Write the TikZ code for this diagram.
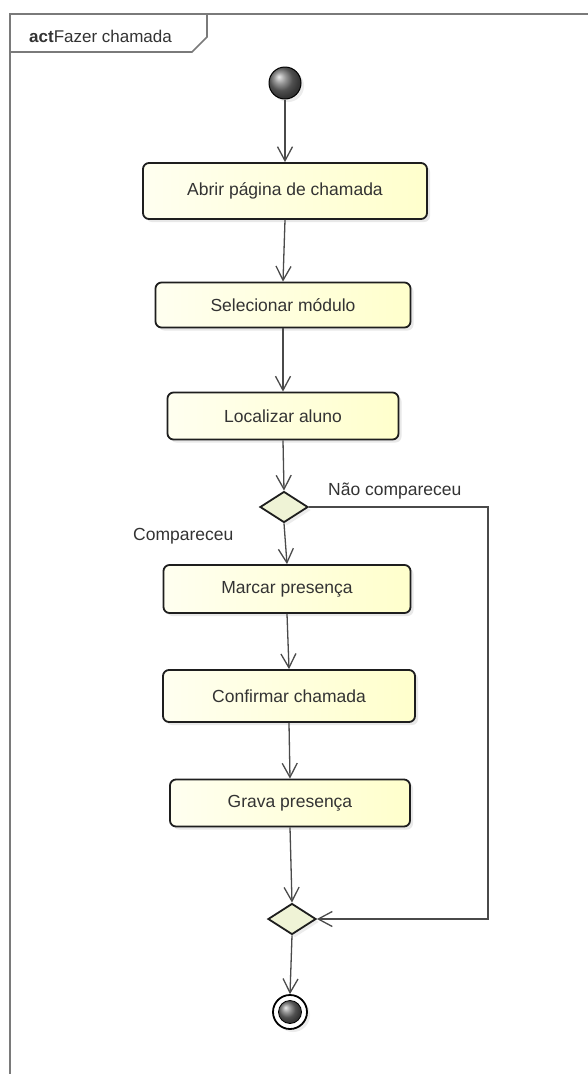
\documentclass[tikz,border=0pt]{standalone}
\usepackage{fontspec}
\setmainfont{Liberation Sans}
\usetikzlibrary{shapes.geometric,arrows.meta,shadows}

\definecolor{framegray}{HTML}{7A7A7A}
\definecolor{linegray}{HTML}{4A4A4A}
\definecolor{boxline}{HTML}{1E1E1E}
\definecolor{boxleft}{HTML}{FFFFF0}
\definecolor{boxright}{HTML}{FFFFCC}
\definecolor{decfill}{HTML}{EFF3D6}
\definecolor{txt}{HTML}{333333}

\tikzset{
  action/.style={draw=boxline, line width=1.8pt, rounded corners=6pt,
    left color=boxleft, right color=boxright, inner sep=0pt,
    font=\fontsize{17.5}{20}\selectfont, text=txt,
    drop shadow={opacity=0.18, shadow xshift=3pt, shadow yshift=-3pt}},
  decision/.style={diamond, draw=boxline, line width=1.8pt, fill=decfill,
    inner sep=0pt, minimum width=48pt, minimum height=31pt,
    drop shadow={opacity=0.15, shadow xshift=3pt, shadow yshift=-3pt}},
  flow/.style={draw=linegray, line width=1.3pt,
    -{Straight Barb[length=14pt, width=15pt, line width=1.3pt]}},
  guard/.style={font=\fontsize{17.5}{20}\selectfont, text=txt, inner sep=0pt},
}

\begin{document}
\begin{tikzpicture}[x=1pt, y=-1pt]
\useasboundingbox (0,0) rectangle (588,1074);
\fill[white] (0,0) rectangle (588,1074);
\begin{scope}
\clip (0,0) rectangle (588,1074);

% activity frame with its name tab
\draw[framegray, line width=1.8pt] (10,1080) -- (10,14) -- (600,14);
\draw[framegray, line width=1.6pt] (10,52) -- (192,52) -- (207,37) -- (207,14);
\node[anchor=west, inner sep=0pt, text=black!80, font=\fontsize{17}{20}\selectfont]
  (title) at (29,36) {\textbf{act}Fazer chamada};

% initial and final nodes
\node[circle, draw=black, line width=1pt, minimum size=32pt, inner sep=0pt,
  shading=ball, ball color=black!55,
  drop shadow={opacity=0.15, shadow xshift=3pt, shadow yshift=-3pt}]
  (init) at (285,83) {};

% actions
\node[action, minimum width=284pt, minimum height=56pt] (b1) at (285,191) {Abrir página de chamada};
\node[action, minimum width=255pt, minimum height=45pt] (b2) at (283,305) {Selecionar módulo};
\node[action, minimum width=231pt, minimum height=47pt] (b3) at (283,416) {Localizar aluno};
\node[decision] (d1) at (284,507) {};
\node[action, minimum width=247pt, minimum height=48pt] (b4) at (287,589) {Marcar presença};
\node[action, minimum width=252pt, minimum height=52pt] (b5) at (289,696) {Confirmar chamada};
\node[action, minimum width=240pt, minimum height=47pt] (b6) at (290,803) {Grava presença};
\node[decision] (m) at (292,919) {};

\node[circle, draw=black, line width=1.8pt, fill=white, minimum size=34pt, inner sep=0pt,
  drop shadow={opacity=0.15, shadow xshift=3pt, shadow yshift=-3pt}]
  (final) at (290,1012) {};
\node[circle, draw=black, line width=0.8pt, minimum size=23pt, inner sep=0pt,
  shading=ball, ball color=black!55] (finalcore) at (final.center) {};

% guard labels
\node[guard, anchor=west] (gno) at (328,491) {Não compareceu};
\node[guard, anchor=west] (gyes) at (133,536) {Compareceu};

% control flow
\coordinate (rightrail) at (488,0);
\draw[flow] (init.south) -- (b1.north);
\draw[flow] (b1.south) -- (b2.north);
\draw[flow] (b2.south) -- (b3.north);
\draw[flow] (b3.south) -- (d1.north);
\draw[flow] (d1.south) -- (b4.north);
\draw[flow] (b4.south) -- (b5.north);
\draw[flow] (b5.south) -- (b6.north);
\draw[flow] (b6.south) -- (m.north);
\draw[flow] (d1.east) -- (d1.east -| rightrail) |- (m.east);
\draw[flow] (m.south) -- (final.north);
\end{scope}
\end{tikzpicture}
\end{document}
